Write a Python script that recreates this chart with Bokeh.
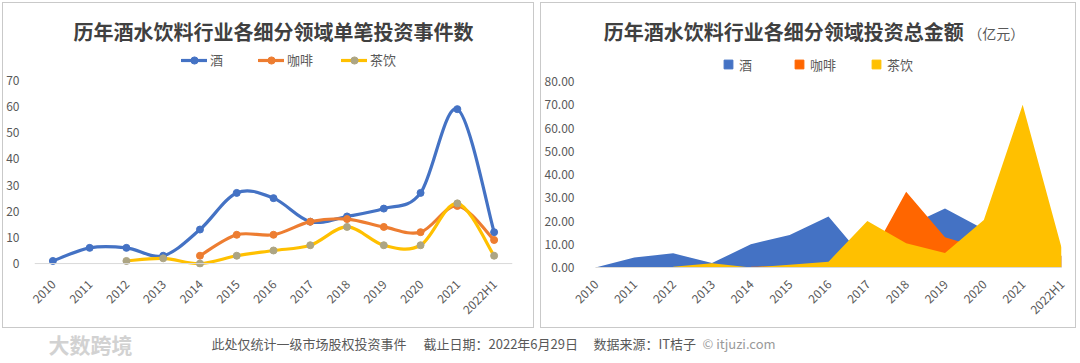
import math
import numpy as np
from bokeh.plotting import figure
from bokeh.models import (Range1d, FixedTicker, Legend, LegendItem, Span, Label,
                          ColumnDataSource, NumeralTickFormatter, Spacer)
from bokeh.layouts import row, column
from bokeh.embed import file_html
from bokeh.resources import INLINE

# ---------------- data ----------------
years = ["2010", "2011", "2012", "2013", "2014", "2015", "2016",
         "2017", "2018", "2019", "2020", "2021", "2022H1"]

# investment event counts
count_wine = [1, 6, 6, 3, 13, 27, 25, 16, 18, 21, 27, 59, 12]
count_coffee = [None, None, None, None, 3, 11, 11, 16, 17, 14, 12, 22, 9]
count_tea = [None, None, 1, 2, 0, 3, 5, 7, 14, 7, 7, 23, 3]

# total investment amount (亿元)
amount_wine = [0, 4.3, 6.1, 1.9, 10, 14, 21.9, 2.2, 17.5, 25.4, 16.5, 30, 5]
amount_coffee = [None, None, None, None, 0.3, 0.8, 1.5, 2.2, 32.6, 13, 8, 10, 5]
amount_tea = [None, None, 0.3, 1.8, 0, 1.2, 2.5, 20, 10.4, 6.2, 20.4, 70, 8.6]

series_names = ["酒", "咖啡", "茶饮"]
left_ticks = [0, 10, 20, 30, 40, 50, 60, 70]
right_ticks = [0, 10, 20, 30, 40, 50, 60, 70, 80]

title_left = "历年酒水饮料行业各细分领域单笔投资事件数"
title_right = "历年酒水饮料行业各细分领域投资总金额"
title_right_unit = "（亿元）"
footer_texts = ["此处仅统计一级市场股权投资事件", "截止日期：2022年6月29日",
                "数据来源：IT桔子", "© itjuzi.com"]
logo_text = "大数跨境"

FONT = "Noto Sans CJK SC"
TXT = "#595959"
TITLE_C = "#404040"
line_colors = ["#4472C4", "#ED7D31", "#FFC000"]
marker_colors = ["#4472C4", "#ED7D31", "#ADA583"]
area_colors = ["#4472C4", "#FF6600", "#FFC000"]


def valid(vals):
    idx = [i for i, v in enumerate(vals) if v is not None]
    return idx, [vals[i] for i in idx]


def bezier_source(idx, vals):
    xs = np.array(idx, float)
    ys = np.array(vals, float)
    n = len(xs)
    d = dict(x0=[], y0=[], x1=[], y1=[], cx0=[], cy0=[], cx1=[], cy1=[])
    for i in range(n - 1):
        i0 = max(i - 1, 0)
        i3 = min(i + 2, n - 1)
        d["x0"].append(xs[i]); d["y0"].append(ys[i])
        d["x1"].append(xs[i + 1]); d["y1"].append(ys[i + 1])
        d["cx0"].append(xs[i] + (xs[i + 1] - xs[i0]) / 6)
        d["cy0"].append(ys[i] + (ys[i + 1] - ys[i0]) / 6)
        d["cx1"].append(xs[i + 1] - (xs[i3] - xs[i]) / 6)
        d["cy1"].append(ys[i + 1] - (ys[i3] - ys[i]) / 6)
    return ColumnDataSource(d)


def style_axes(p):
    p.grid.visible = False
    p.outline_line_color = None
    p.background_fill_alpha = 0
    p.border_fill_alpha = 0
    for ax in p.axis:
        ax.major_tick_line_color = None
        ax.minor_tick_line_color = None
        ax.major_label_text_color = TXT
        ax.major_label_text_font = FONT
        ax.major_label_text_font_size = "12px"
    p.styles = {"border": "1px solid #c9c9c9", "box-sizing": "border-box"}


PANEL_H = 326

# ---------------- left: line chart ----------------
p1 = figure(width=532, height=PANEL_H, x_range=Range1d(-0.5, 12.5), y_range=Range1d(-1.5, 99.35),
            output_backend="svg", toolbar_location=None,
            min_border_left=28, min_border_right=23, min_border_top=0, min_border_bottom=58)
style_axes(p1)
p1.yaxis.ticker = FixedTicker(ticks=left_ticks)
p1.yaxis.axis_line_color = None
p1.yaxis.major_label_standoff = 9
p1.xaxis.ticker = FixedTicker(ticks=list(range(len(years))))
p1.xaxis.major_label_overrides = {i: y for i, y in enumerate(years)}
p1.xaxis.major_label_orientation = math.pi / 4
p1.xaxis.axis_line_color = None
p1.xaxis.major_label_standoff = 8
p1.add_layout(Span(location=0, dimension="width", line_color="#d9d9d9", line_width=1))

items = []
for name, data, lc, mc in zip(series_names, [count_wine, count_coffee, count_tea], line_colors, marker_colors):
    idx, vals = valid(data)
    src = bezier_source(idx, vals)
    bz = p1.bezier(x0="x0", y0="y0", x1="x1", y1="y1", cx0="cx0", cy0="cy0", cx1="cx1", cy1="cy1",
                   source=src, line_color=lc, line_width=3.2, line_cap="round")
    # one-point line: invisible on the plot, gives the legend its line sample
    key = p1.line(x=idx[:1], y=vals[:1], line_color=lc, line_width=3.2)
    sc = p1.scatter(x=idx, y=vals, size=7, marker="circle", fill_color=mc, line_color=mc)
    items.append(LegendItem(label=name, renderers=[bz, key, sc]))

leg1 = Legend(items=items, orientation="horizontal", location=(147, 198),
              glyph_width=26, glyph_height=18, label_height=18, label_standoff=3, spacing=28,
              padding=0, margin=0, border_line_color=None, background_fill_alpha=0,
              label_text_font=FONT, label_text_font_size="13px", label_text_color=TXT)
p1.add_layout(leg1)
p1.add_layout(Label(x=6.0, y=88.8, text=title_left, text_align="center", text_baseline="middle",
                    text_font=FONT, text_font_size="20px", text_font_style="bold", text_color=TITLE_C))

# ---------------- right: area chart ----------------
p2 = figure(width=536, height=PANEL_H, x_range=Range1d(0, 12), y_range=Range1d(0, 113.55),
            output_backend="svg", toolbar_location=None,
            min_border_left=50, min_border_right=16, min_border_top=0, min_border_bottom=62)
style_axes(p2)
p2.yaxis.ticker = FixedTicker(ticks=right_ticks)
p2.yaxis.formatter = NumeralTickFormatter(format="0.00")
p2.yaxis.axis_line_color = None
p2.yaxis.major_label_standoff = 15
p2.xaxis.ticker = FixedTicker(ticks=list(range(len(years))))
p2.xaxis.major_label_overrides = {i: y for i, y in enumerate(years)}
p2.xaxis.major_label_orientation = math.pi / 4
p2.xaxis.axis_line_color = "#d9d9d9"
p2.xaxis.major_label_standoff = 8

items2 = []
for name, data, c in zip(series_names, [amount_wine, amount_coffee, amount_tea], area_colors):
    idx, vals = valid(data)
    p2.varea(x=idx, y1=[0] * len(idx), y2=vals, fill_color=c, fill_alpha=1)
    # zero-size squares: nothing on the plot, square sample in the legend
    key = p2.scatter(x=idx, y=vals, size=0, marker="square", fill_color=c, line_color=c)
    items2.append(LegendItem(label=name, renderers=[key]))

leg2 = Legend(items=items2, orientation="horizontal", location=(122, 192),
              glyph_width=22, glyph_height=22, label_height=22, label_standoff=0, spacing=29,
              padding=0, margin=0, border_line_color=None, background_fill_alpha=0,
              label_text_font=FONT, label_text_font_size="13px", label_text_color=TXT)
p2.add_layout(leg2)
p2.add_layout(Label(x=4.85, y=101.5, text=title_right, text_align="center", text_baseline="middle",
                    text_font=FONT, text_font_size="20px", text_font_style="bold", text_color=TITLE_C))
p2.add_layout(Label(x=9.6, y=101.0, text=title_right_unit, text_align="left", text_baseline="middle",
                    text_font=FONT, text_font_size="14px", text_color=TXT))

# ---------------- footer ----------------
pf = figure(width=1080, height=35, x_range=Range1d(0, 1080), y_range=Range1d(0, 35),
            output_backend="svg", toolbar_location=None, min_border=0,
            min_border_left=0, min_border_right=0, min_border_top=0, min_border_bottom=0)
pf.axis.visible = False
pf.grid.visible = False
pf.outline_line_color = None
pf.add_layout(Label(x=48, y=20, text=logo_text, text_align="left", text_baseline="middle",
                    text_font=FONT, text_font_size="21px", text_font_style="bold", text_color="#d2d2d2"))
fx = [211, 423, 593, 702]
fc = [TXT, TXT, TXT, "#9a9a9a"]
for x, t, c in zip(fx, footer_texts, fc):
    pf.add_layout(Label(x=x, y=20, text=t, text_align="left", text_baseline="middle",
                        text_font=FONT, text_font_size="13px", text_color=c))

layout = column(Spacer(width=1080, height=2),
                row(Spacer(width=2, height=PANEL_H), p1, Spacer(width=6, height=PANEL_H), p2),
                pf)
open("out.html", "w").write(file_html(layout, INLINE))
